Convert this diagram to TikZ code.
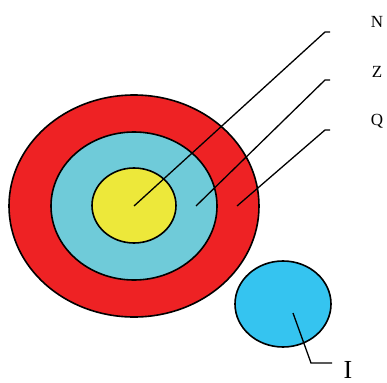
\documentclass[tikz,border=0pt]{standalone}
\usepackage{fontspec}
\setmainfont{Liberation Serif}
\definecolor{cred}{HTML}{EE2224}
\definecolor{ccyan}{HTML}{6FCBD9}
\definecolor{cyel}{HTML}{EDE83A}
\definecolor{cblue}{HTML}{35C4F0}
\begin{document}
\begin{tikzpicture}[x=1pt,y=-1pt,
  ring/.style={draw=black,line width=1.6pt},
  leader/.style={draw=black,line width=1.3pt},
  lbl/.style={inner sep=0pt,anchor=center,font=\fontsize{17}{17}\selectfont}]
\useasboundingbox (0,0) rectangle (387,382);
\path[ring,fill=cred] (134,206) ellipse [x radius=125,y radius=111];
\path[ring,fill=ccyan] (134,206) ellipse [x radius=83,y radius=74];
\path[ring,fill=cyel] (134,205.5) ellipse [x radius=42,y radius=37.5];
\path[ring,fill=cblue] (283,304) ellipse [x radius=48,y radius=43];
\coordinate (pN) at (134,206);
\coordinate (pZ) at (196,206);
\coordinate (pQ) at (237,206);
\coordinate (pI) at (293,313);
\coordinate (kN) at (325,32);
\coordinate (kZ) at (325,80);
\coordinate (kQ) at (325,130);
\coordinate (kI) at (311,363);
\coordinate (eN) at (330,32);
\coordinate (eZ) at (330,80);
\coordinate (eQ) at (330,130);
\coordinate (eI) at (332,363);
\draw[leader] (pN) -- (kN) -- (eN);
\draw[leader] (pZ) -- (kZ) -- (eZ);
\draw[leader] (pQ) -- (kQ) -- (eQ);
\draw[leader] (pI) -- (kI) -- (eI);
\node[lbl] (N) at (377,22) {N};
\node[lbl] (Z) at (377,72) {Z};
\node[lbl] (Q) at (377,121) {Q};
\node[lbl,font=\fontsize{26}{26}\selectfont,anchor=north] (I) at (348,361) {I};
\end{tikzpicture}
\end{document}
